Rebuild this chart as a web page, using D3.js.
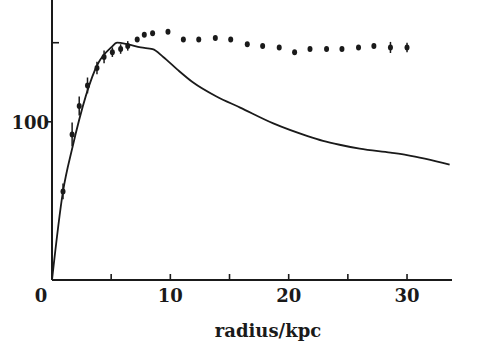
<!DOCTYPE html>
<html>
<head>
<meta charset="utf-8">
<script src="https://cdn.jsdelivr.net/npm/d3@7"></script>
<style>
  body { margin: 0; background: #fff; }
  svg text { font-family: "DejaVu Serif", "Liberation Serif", serif; font-weight: bold; fill: #1a1a1a; }
</style>
</head>
<body>
<div id="chart"></div>
<script>
var w = 498;
var h = 344;

// model curve (solid line)
var curveR = [0, 0.93, 1.7, 3.9, 5.0, 5.5, 6.4, 7.5, 8.5, 9.4, 10.6, 11.9, 13.9, 15.9, 18.7, 21.6, 22.9, 24.3, 26.0, 28.6, 30.0, 33.6];
var curveV = [0, 56, 83, 137, 147, 150, 149, 147, 146, 141, 133, 125, 116, 109, 99, 91, 88, 85.5, 83, 80.5, 79, 73];

// observed points with error bars
var obsR = [0.93, 1.7, 2.3, 3.0, 3.8, 4.4, 5.1, 5.8, 6.4, 7.2, 7.8, 8.5, 9.8, 11.1, 12.4, 13.8, 15.1, 16.5, 17.8, 19.2, 20.5, 21.8, 23.2, 24.5, 25.9, 27.2, 28.6, 30.0];
var obsV = [56, 92, 110, 123, 134, 141, 144, 146, 148, 152, 155, 156, 157, 152, 152, 153, 152, 149, 148, 147, 144, 146, 146, 146, 147, 148, 147, 147];
var obsErr = [5, 7.5, 6, 5, 4, 4, 3, 3, 3, 0, 0, 0, 0, 0, 0, 0, 0, 0, 0, 0, 0, 0, 0, 0, 0, 0, 3.5, 3];

var xTicks = [0, 5, 10, 15, 20, 25, 30];
var xLabels = [10, 20, 30];

var ink = "#1a1a1a";

var x = d3.scaleLinear().domain([0, 33.8]).range([52, 452]);
var y = d3.scaleLinear().domain([0, 177]).range([280, 0]);

var svg = d3.select("#chart").append("svg")
  .attr("width", w)
  .attr("height", h);

// axes
svg.append("line")
  .attr("x1", x(0)).attr("x2", x(0))
  .attr("y1", y(0)).attr("y2", 0)
  .style("stroke", ink).style("stroke-width", 2);
svg.append("line")
  .attr("x1", x(0)).attr("x2", x.range()[1])
  .attr("y1", y(0)).attr("y2", y(0))
  .style("stroke", ink).style("stroke-width", 2);

// x ticks point inwards
svg.selectAll(".xtick")
    .data(xTicks.filter(function(d) { return d > 0; }))
  .enter().append("line")
    .attr("class", "xtick")
    .attr("x1", function(d) { return x(d); })
    .attr("x2", function(d) { return x(d); })
    .attr("y1", y(0))
    .attr("y2", y(0) - 6)
    .style("stroke", ink).style("stroke-width", 1.6);

svg.selectAll(".xlabel")
    .data(xLabels)
  .enter().append("text")
    .attr("class", "xlabel")
    .attr("x", function(d) { return x(d); })
    .attr("y", 302)
    .attr("text-anchor", "middle")
    .style("font-size", "18px")
    .text(function(d) { return d; });

svg.append("text")
  .attr("x", x(0) - 11)
  .attr("y", 302)
  .attr("text-anchor", "middle")
  .style("font-size", "18px")
  .text("0");

// y ticks: 100 sticks out, 150 sticks in
svg.append("line")
  .attr("x1", x(0) - 5).attr("x2", x(0))
  .attr("y1", y(100)).attr("y2", y(100))
  .style("stroke", ink).style("stroke-width", 1.6);
svg.append("line")
  .attr("x1", x(0)).attr("x2", x(0) + 7)
  .attr("y1", y(150)).attr("y2", y(150))
  .style("stroke", ink).style("stroke-width", 1.6);

svg.append("text")
  .attr("x", x(0) - 3)
  .attr("y", y(100) + 7)
  .attr("text-anchor", "end")
  .style("font-size", "18px")
  .text("100");

svg.append("text")
  .attr("x", 268)
  .attr("y", 337)
  .attr("text-anchor", "middle")
  .style("font-size", "18px")
  .text("radius/kpc");

// model curve
var line = d3.line()
  .x(function(d) { return x(d[0]); })
  .y(function(d) { return y(d[1]); })
  .curve(d3.curveMonotoneX);

svg.append("path")
  .datum(curveR.map(function(r, i) { return [r, curveV[i]]; }))
  .attr("d", line)
  .style("fill", "none")
  .style("stroke", ink)
  .style("stroke-width", 1.8);

// observed points
var obs = obsR.map(function(r, i) { return { r: r, v: obsV[i], e: obsErr[i] }; });

svg.selectAll(".err")
    .data(obs.filter(function(d) { return d.e > 0; }))
  .enter().append("line")
    .attr("class", "err")
    .attr("x1", function(d) { return x(d.r); })
    .attr("x2", function(d) { return x(d.r); })
    .attr("y1", function(d) { return y(d.v + d.e); })
    .attr("y2", function(d) { return y(d.v - d.e); })
    .style("stroke", ink).style("stroke-width", 1.5);

svg.selectAll(".dot")
    .data(obs)
  .enter().append("ellipse")
    .attr("class", "dot")
    .attr("cx", function(d) { return x(d.r); })
    .attr("cy", function(d) { return y(d.v); })
    .attr("rx", 2.5)
    .attr("ry", 3)
    .style("fill", ink);
</script>
</body>
</html>
